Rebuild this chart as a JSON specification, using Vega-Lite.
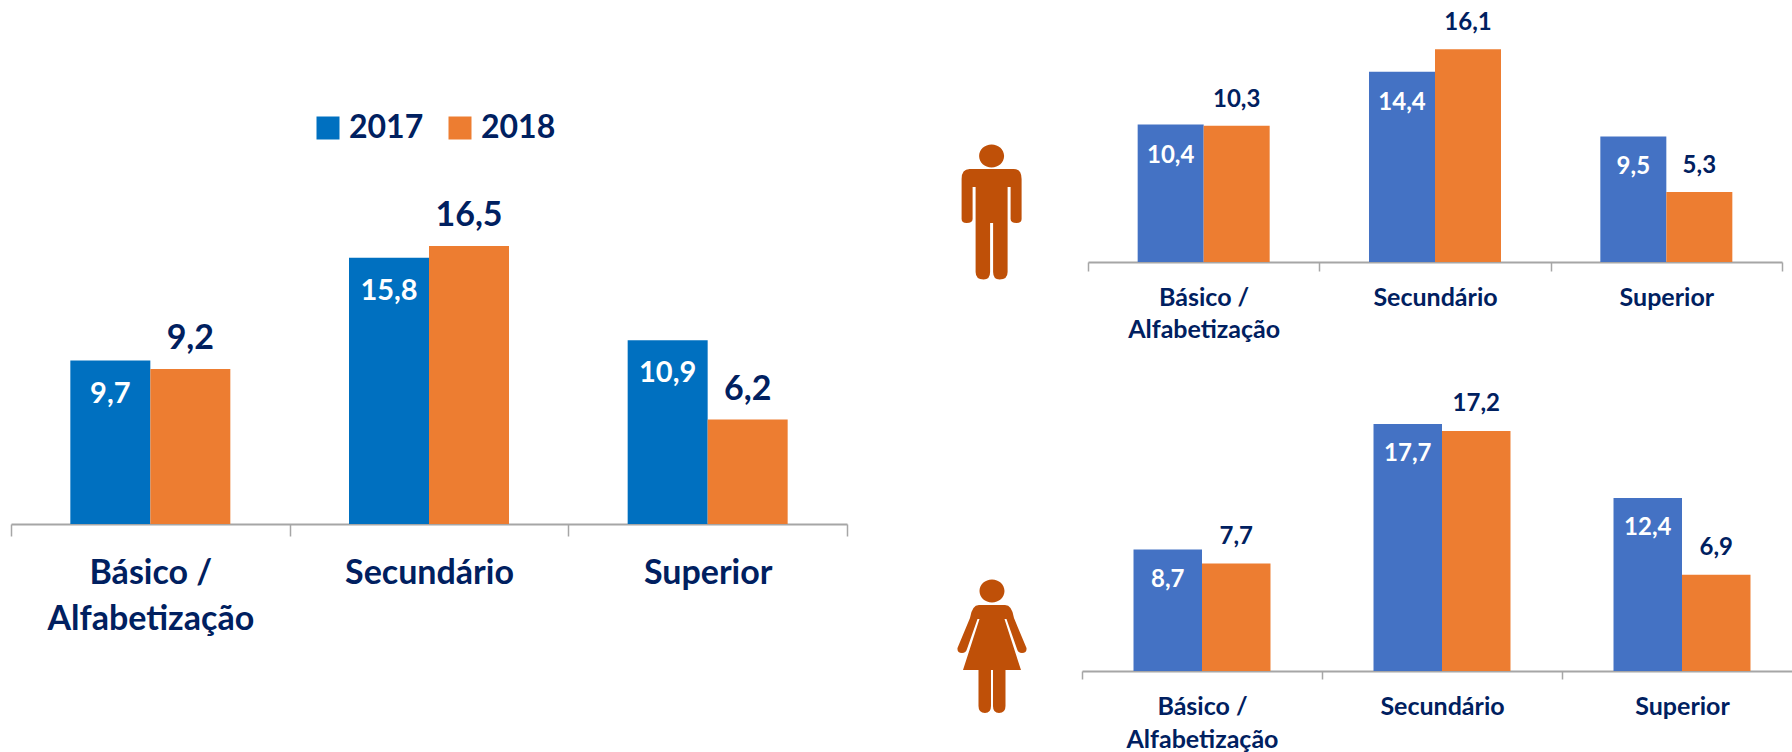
{
"$schema":"https://vega.github.io/schema/vega-lite/v6.json",
"padding":{"left":10,"top":0,"right":0,"bottom":0},
"background":"white",
"bounds":"flush",
"spacing":0,
"resolve":{"scale":{"color":"independent","xOffset":"independent"},"legend":{"color":"independent"}},
"config":{"view":{"stroke":null},"font":"Lato","text":{"font":"Lato","fontWeight":"bold"}},
"hconcat":[
{"width":836,"height":524,
 "data":{"values":[
 {"nivel":"Básico / Alfabetização","ano":"2017","valor":9.7,"rotulo":"9,7"},
 {"nivel":"Básico / Alfabetização","ano":"2018","valor":9.2,"rotulo":"9,2"},
 {"nivel":"Secundário","ano":"2017","valor":15.8,"rotulo":"15,8"},
 {"nivel":"Secundário","ano":"2018","valor":16.5,"rotulo":"16,5"},
 {"nivel":"Superior","ano":"2017","valor":10.9,"rotulo":"10,9"},
 {"nivel":"Superior","ano":"2018","valor":6.2,"rotulo":"6,2"}]},
 "encoding":{
  "x":{"field":"nivel","type":"nominal","sort":null,"title":null,"scale":{"paddingInner":0,"paddingOuter":0},
   "axis":{"labelAngle":0,"labelExpr":"datum.value == 'Básico / Alfabetização' ? ['Básico /','Alfabetização'] : datum.value","labelFont":"Lato","labelFontWeight":"bold","labelFontSize":34,"labelColor":"#002060","labelLineHeight":46,"labelLimit":400,"labelPadding":20,"labelBaseline":"top","tickBand":"extent","tickSize":12,"tickColor":"#A6A6A6","tickWidth":1.5,"domainColor":"#A6A6A6","domainWidth":2}},
  "xOffset":{"field":"ano","type":"nominal","scale":{"paddingInner":0,"paddingOuter":0.7417}},
  "y":{"field":"valor","type":"quantitative","scale":{"domain":[0,31.1],"nice":false},"axis":null}
 },
 "layer":[
  {"mark":{"type":"bar"},"encoding":{"color":{"field":"ano","type":"nominal","scale":{"domain":["2017","2018"],"range":["#0070C0","#ED7D31"]},
    "legend":{"title":null,"orient":"none","legendX":301,"legendY":112,"direction":"horizontal","symbolType":"square","symbolSize":529,"symbolStrokeWidth":0,"labelFont":"Lato","labelFontWeight":"bold","labelFontSize":32,"labelColor":"#002060","labelOffset":5,"columnPadding":20}}}},
  {"transform":[{"filter":"datum.ano == '2017'"}],"mark":{"type":"text","color":"white","fontSize":29,"baseline":"middle","dy":33},"encoding":{"text":{"field":"rotulo"}}},
  {"transform":[{"filter":"datum.ano == '2018'"}],"mark":{"type":"text","color":"#002060","fontSize":34,"baseline":"middle","dy":-30},"encoding":{"text":{"field":"rotulo"}}}
 ]},
{"vconcat":[
 {"hconcat":[
  {"width":241,"height":262,"data":{"values":[{"px":0.6,"py":0.191}]},
   "mark":{"type":"point","filled":true,"opacity":1,"size":4,"color":"#BF5008","strokeWidth":0,"shape":"M-12.5,-56a12.5,11.5 0 1,0 25,0a12.5,11.5 0 1,0 -25,0ZM-22,-43L22,-43Q30,-43 30,-33L30,7Q30,11 25,11Q19,11 19,7L19,-25L16,-25L16,60Q16,67.5 8,67.5Q1.5,67.5 1.5,60L1.5,11L-1.5,11L-1.5,60Q-1.5,67.5 -8,67.5Q-16,67.5 -16,60L-16,-25L-19,-25L-19,7Q-19,11 -25,11Q-30,11 -30,7L-30,-33Q-30,-43 -22,-43Z"},
   "encoding":{"x":{"field":"px","type":"quantitative","scale":{"domain":[0,1]},"axis":null},"y":{"field":"py","type":"quantitative","scale":{"domain":[0,1]},"axis":null}}},
  {"width":694,"height":262,
   "data":{"values":[
   {"nivel":"Básico / Alfabetização","ano":"2017","valor":10.4,"rotulo":"10,4"},
   {"nivel":"Básico / Alfabetização","ano":"2018","valor":10.3,"rotulo":"10,3"},
   {"nivel":"Secundário","ano":"2017","valor":14.4,"rotulo":"14,4"},
   {"nivel":"Secundário","ano":"2018","valor":16.1,"rotulo":"16,1"},
   {"nivel":"Superior","ano":"2017","valor":9.5,"rotulo":"9,5"},
   {"nivel":"Superior","ano":"2018","valor":5.3,"rotulo":"5,3"}]},
   "encoding":{
    "x":{"field":"nivel","type":"nominal","sort":null,"title":null,"scale":{"paddingInner":0,"paddingOuter":0},
     "axis":{"labelAngle":0,"labelExpr":"datum.value == 'Básico / Alfabetização' ? ['Básico /','Alfabetização'] : datum.value","labelFont":"Lato","labelFontWeight":"bold","labelFontSize":25,"labelColor":"#002060","labelLineHeight":32,"labelLimit":400,"labelPadding":14,"labelBaseline":"top","tickBand":"extent","tickSize":9,"tickColor":"#A6A6A6","tickWidth":1.5,"domainColor":"#A6A6A6","domainWidth":2}},
    "xOffset":{"field":"ano","type":"nominal","scale":{"paddingInner":0,"paddingOuter":0.7525}},
    "y":{"field":"valor","type":"quantitative","scale":{"domain":[0,19.82],"nice":false},"axis":null}
   },
   "layer":[
    {"mark":{"type":"bar"},"encoding":{"color":{"field":"ano","type":"nominal","scale":{"domain":["2017","2018"],"range":["#4472C4","#ED7D31"]},"legend":null}}},
    {"transform":[{"filter":"datum.ano == '2017'"}],"mark":{"type":"text","color":"white","fontSize":24,"baseline":"middle","dy":31},"encoding":{"text":{"field":"rotulo"}}},
    {"transform":[{"filter":"datum.ano == '2018'"}],"mark":{"type":"text","color":"#002060","fontSize":24,"baseline":"middle","dy":-26},"encoding":{"text":{"field":"rotulo"}}}
   ]}
 ],"bounds":"flush","spacing":0,"resolve":{"scale":{"xOffset":"independent"}}},
 {"hconcat":[
  {"width":235,"height":300,"data":{"values":[{"px":0.617,"py":0.083}]},
   "mark":{"type":"point","filled":true,"opacity":1,"size":4,"color":"#BF5008","strokeWidth":0,"shape":"M-12.5,-55a12.5,11.5 0 1,0 25,0a12.5,11.5 0 1,0 -25,0ZM-13,-41L13,-41Q20,-41 22,-28L34.5,2Q35,7 30,7Q26,7 25,3L14.5,-27L12.5,-27L29,24L13.5,24L13.5,60Q13.5,67 7,67Q1,67 1,60L1,24L-1,24L-1,60Q-1,67 -7,67Q-13.5,67 -13.5,60L-13.5,24L-29,24L-12.5,-27L-14.5,-27L-25,3Q-26,7 -30,7Q-35,7 -34.5,2L-22,-28Q-20,-41 -13,-41Z"},
   "encoding":{"x":{"field":"px","type":"quantitative","scale":{"domain":[0,1]},"axis":null},"y":{"field":"py","type":"quantitative","scale":{"domain":[0,1]},"axis":null}}},
  {"width":720,"height":300,
   "data":{"values":[
   {"nivel":"Básico / Alfabetização","ano":"2017","valor":8.7,"rotulo":"8,7"},
   {"nivel":"Básico / Alfabetização","ano":"2018","valor":7.7,"rotulo":"7,7"},
   {"nivel":"Secundário","ano":"2017","valor":17.7,"rotulo":"17,7"},
   {"nivel":"Secundário","ano":"2018","valor":17.2,"rotulo":"17,2"},
   {"nivel":"Superior","ano":"2017","valor":12.4,"rotulo":"12,4"},
   {"nivel":"Superior","ano":"2018","valor":6.9,"rotulo":"6,9"}]},
   "encoding":{
    "x":{"field":"nivel","type":"nominal","sort":null,"title":null,"scale":{"paddingInner":0,"paddingOuter":0},
     "axis":{"labelAngle":0,"labelExpr":"datum.value == 'Básico / Alfabetização' ? ['Básico /','Alfabetização'] : datum.value","labelFont":"Lato","labelFontWeight":"bold","labelFontSize":25,"labelColor":"#002060","labelLineHeight":33,"labelLimit":400,"labelPadding":15,"labelBaseline":"top","tickBand":"extent","tickSize":8,"tickColor":"#A6A6A6","tickWidth":1.5,"domainColor":"#A6A6A6","domainWidth":2}},
    "xOffset":{"field":"ano","type":"nominal","scale":{"paddingInner":0,"paddingOuter":0.752}},
    "y":{"field":"valor","type":"quantitative","scale":{"domain":[0,21.5],"nice":false},"axis":null}
   },
   "layer":[
    {"mark":{"type":"bar"},"encoding":{"color":{"field":"ano","type":"nominal","scale":{"domain":["2017","2018"],"range":["#4472C4","#ED7D31"]},"legend":null}}},
    {"transform":[{"filter":"datum.ano == '2017'"}],"mark":{"type":"text","color":"white","fontSize":24,"baseline":"middle","dy":30},"encoding":{"text":{"field":"rotulo"}}},
    {"transform":[{"filter":"datum.ano == '2018'"}],"mark":{"type":"text","color":"#002060","fontSize":24,"baseline":"middle","dy":-27},"encoding":{"text":{"field":"rotulo"}}}
   ]}
 ],"bounds":"flush","spacing":0,"resolve":{"scale":{"xOffset":"independent"}}}
],"spacing":29,"resolve":{"scale":{"xOffset":"independent"}}}
]}
